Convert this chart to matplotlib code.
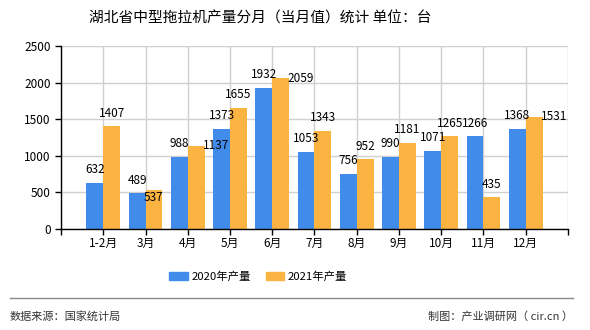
import numpy as np
import matplotlib.pyplot as plt
from matplotlib.patches import Patch
from matplotlib.lines import Line2D

plt.rcParams['font.family'] = ['Noto Sans CJK SC', 'DejaVu Sans']

# data
months = ["1-2月", "3月", "4月", "5月", "6月", "7月", "8月", "9月", "10月", "11月", "12月"]
prod_2020 = [632, 489, 988, 1373, 1932, 1053, 756, 990, 1071, 1266, 1368]
prod_2021 = [1407, 537, 1137, 1655, 2059, 1343, 952, 1181, 1265, 435, 1531]

blue = "#418BEB"
orange = "#FBB342"

fig = plt.figure(figsize=(5.9, 3.3), dpi=100)
ax = fig.add_axes([0.1034, 0.306, 0.8593, 0.5546])

x = np.arange(len(months))
w = 0.4
ax.bar(x - w/2, prod_2020, width=w, color=blue, zorder=3)
ax.bar(x + w/2, prod_2021, width=w, color=orange, zorder=3)

# value labels, a few nudged like the original to avoid overlaps
px = 0.72  # points per pixel
for i in range(len(months)):
    ax.annotate(str(prod_2020[i]), (x[i] - w/2, prod_2020[i]),
                xytext=(0, 13*px), textcoords='offset points',
                ha='center', va='center', fontsize=8.5, zorder=4)
    v = prod_2021[i]
    dx, dy = 0, 13
    if v in (1137, 2059, 1531):
        dx, dy = 20, 0
    elif v == 537:
        dy = -8
    ax.annotate(str(v), (x[i] + w/2, v),
                xytext=(dx*px, dy*px), textcoords='offset points',
                ha='center', va='center', fontsize=8.5, zorder=4)

ax.set_xlim(-1, 11)
ax.set_ylim(0, 2500)
ax.set_yticks(np.arange(0, 2501, 500))
ax.set_xticks(np.arange(-1, 12))
ax.set_xticklabels([""] + months + [""])
ax.tick_params(axis='both', labelsize=8.5, length=4, width=1, color='black')
ax.tick_params(axis='x', pad=2)
ax.grid(True, color='#d0d0d0', linewidth=1, zorder=0)
ax.set_axisbelow(True)
for s in ['top', 'right']:
    ax.spines[s].set_visible(False)
for s in ['left', 'bottom']:
    ax.spines[s].set_color('black')
    ax.spines[s].set_linewidth(1)
    ax.spines[s].set_zorder(5)

fig.text(0.441, 0.945, "湖北省中型拖拉机产量分月（当月值）统计 单位：台",
         ha='center', va='center', fontsize=10.6)

handles = [Patch(color=blue, label="2020年产量"), Patch(color=orange, label="2021年产量")]
fig.legend(handles=handles, loc='center', bbox_to_anchor=(0.438, 0.163), ncol=2,
           frameon=False, fontsize=8.2, handlelength=1.6, handleheight=0.7,
           handletextpad=0.35, columnspacing=1.3)

fig.add_artist(Line2D([0.017, 0.971], [0.097, 0.097], color='#888888', linewidth=1))
fig.text(0.017, 0.042, "数据来源：国家统计局", ha='left', va='center', fontsize=8, color='#333333')
fig.text(0.971, 0.042, "制图：产业调研网（ cir.cn ）", ha='right', va='center', fontsize=8,
         color='#333333', family=['Noto Sans CJK SC', 'DejaVu Sans Mono'])

fig.savefig("out.png", dpi=100)
